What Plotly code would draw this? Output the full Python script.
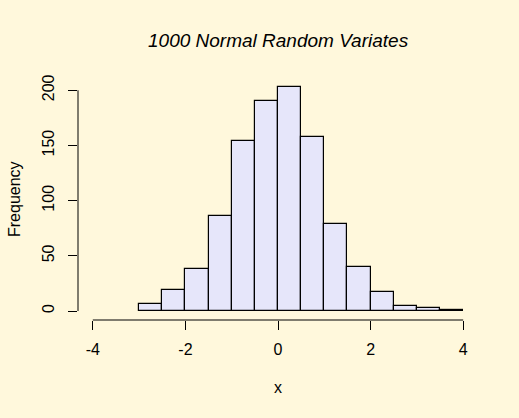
import plotly.graph_objects as go

# Histogram data
breaks = [-3.0, -2.5, -2.0, -1.5, -1.0, -0.5, 0.0, 0.5, 1.0, 1.5, 2.0, 2.5, 3.0, 3.5, 4.0]
counts = [6, 19, 38, 86, 154, 190, 203, 158, 79, 40, 17, 5, 3, 1]
x_ticks = [-4, -2, 0, 2, 4]
y_ticks = [0, 50, 100, 150, 200]
title_text = "1000 Normal Random Variates"
x_label = "x"
y_label = "Frequency"

mids = [(breaks[i] + breaks[i + 1]) / 2 for i in range(len(counts))]
widths = [breaks[i + 1] - breaks[i] for i in range(len(counts))]

BG = "#FFF8DC"
FONT = "Liberation Sans, Arial, sans-serif"

xmin, xmax = x_ticks[0], x_ticks[-1]
xpad = 0.04 * (xmax - xmin)
ymax = max(counts)
ypad = 0.04 * ymax

fig = go.Figure()
fig.add_trace(go.Bar(
    x=mids, y=counts, width=widths,
    marker=dict(color="#E6E6FA", line=dict(color="black", width=1.2)),
    showlegend=False, hoverinfo="skip",
))

fig.update_layout(
    width=519, height=418,
    paper_bgcolor=BG, plot_bgcolor=BG,
    margin=dict(l=78, r=41, t=78, b=98, pad=0),
    font=dict(family=FONT, size=16, color="black"),
    bargap=0,
    xaxis=dict(range=[xmin - xpad, xmax + xpad], tickvals=x_ticks,
               ticktext=[str(v) for v in x_ticks], automargin=False,
               showgrid=False, zeroline=False, showline=False,
               ticks="outside", ticklen=9, tickwidth=1, tickcolor="black",
               ticklabelstandoff=6),
    yaxis=dict(range=[-ypad, ymax + ypad], tickvals=y_ticks,
               ticktext=[str(v) for v in y_ticks], automargin=False,
               showgrid=False, zeroline=False, showline=False,
               ticks="outside", ticklen=9, tickwidth=1, tickcolor="black",
               tickangle=-90, ticklabelstandoff=8),
)

# R-style axis lines spanning only the tick range
fig.add_shape(type="line", xref="x", yref="paper", x0=x_ticks[0], x1=x_ticks[-1],
              y0=0, y1=0, line=dict(color="black", width=1))
fig.add_shape(type="line", xref="paper", yref="y", x0=0, x1=0,
              y0=y_ticks[0], y1=y_ticks[-1], line=dict(color="black", width=1))

fig.add_annotation(text="<i>" + title_text + "</i>", xref="paper", yref="paper",
                   x=0.5, y=1, yshift=38, showarrow=False,
                   font=dict(size=19, family=FONT), yanchor="middle")
fig.add_annotation(text=x_label, xref="paper", yref="paper", x=0.5, y=0,
                   yshift=-67, showarrow=False, yanchor="middle")
fig.add_annotation(text=y_label, xref="paper", yref="paper", x=0, y=0.5,
                   xshift=-64, textangle=-90, showarrow=False, xanchor="center")

fig.write_html("out.html", config={"displayModeBar": False},
               post_script="document.body.style.margin='0';document.body.style.padding='0';")
